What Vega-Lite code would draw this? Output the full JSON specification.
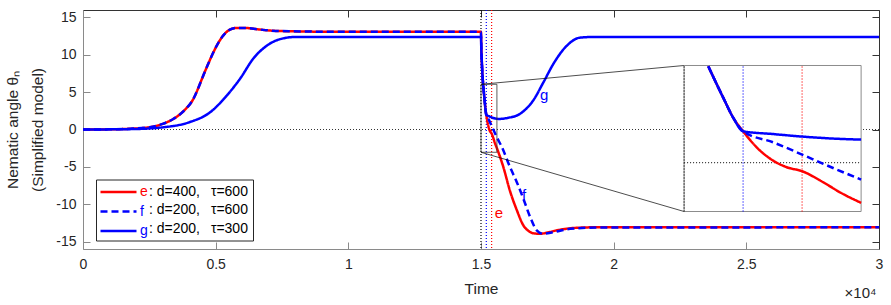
{
  "$schema": "https://vega.github.io/schema/vega-lite/v6.json",
  "width": 796,
  "height": 239,
  "autosize": {"type": "none"},
  "padding": {"left": 83, "top": 10, "right": 12, "bottom": 56},
  "background": "white",
  "config": {
    "font": "Liberation Sans",
    "view": {"stroke": null},
    "axis": {"grid": false, "labelFont": "Liberation Sans", "labelFontSize": 14, "labelColor": "#262626", "titleFont": "Liberation Sans", "titleFontWeight": "normal", "titleColor": "#262626", "tickSize": -7, "domainWidth": 1, "tickWidth": 1}
  },
  "datasets": {
    "curves": [
      {"series": "e", "t": 0, "theta": 0}, {"series": "e", "t": 1000, "theta": 0.02}, {"series": "e", "t": 1770, "theta": 0.1}, {"series": "e", "t": 2500, "theta": 0.3}, {"series": "e", "t": 3000, "theta": 0.75}, {"series": "e", "t": 3400, "theta": 1.4}, {"series": "e", "t": 3800, "theta": 2.5}, {"series": "e", "t": 4160, "theta": 4.1}, {"series": "e", "t": 4350, "theta": 5.6}, {"series": "e", "t": 4530, "theta": 7.2}, {"series": "e", "t": 4720, "theta": 8.8}, {"series": "e", "t": 4910, "theta": 10.3}, {"series": "e", "t": 5100, "theta": 11.6}, {"series": "e", "t": 5290, "theta": 12.6}, {"series": "e", "t": 5500, "theta": 13.3}, {"series": "e", "t": 5790, "theta": 13.6}, {"series": "e", "t": 6100, "theta": 13.6}, {"series": "e", "t": 6500, "theta": 13.45}, {"series": "e", "t": 7050, "theta": 13.25}, {"series": "e", "t": 7800, "theta": 13.15}, {"series": "e", "t": 9000, "theta": 13.1}, {"series": "e", "t": 15000, "theta": 13.1}, {"series": "e", "t": 15010, "theta": 11.2}, {"series": "e", "t": 15030, "theta": 9.2}, {"series": "e", "t": 15050, "theta": 7.6}, {"series": "e", "t": 15082, "theta": 6.0}, {"series": "e", "t": 15133, "theta": 4.03}, {"series": "e", "t": 15167, "theta": 2.78}, {"series": "e", "t": 15200, "theta": 1.95}, {"series": "e", "t": 15246, "theta": 0.95}, {"series": "e", "t": 15302, "theta": 0.12}, {"series": "e", "t": 15348, "theta": -0.29}, {"series": "e", "t": 15400, "theta": -0.54}, {"series": "e", "t": 15472, "theta": -1.23}, {"series": "e", "t": 15528, "theta": -1.85}, {"series": "e", "t": 15600, "theta": -2.51}, {"series": "e", "t": 15840, "theta": -5.0}, {"series": "e", "t": 16090, "theta": -8.2}, {"series": "e", "t": 16350, "theta": -10.8}, {"series": "e", "t": 16600, "theta": -12.85}, {"series": "e", "t": 16800, "theta": -13.6}, {"series": "e", "t": 16970, "theta": -13.9}, {"series": "e", "t": 17230, "theta": -13.96}, {"series": "e", "t": 17500, "theta": -13.8}, {"series": "e", "t": 17860, "theta": -13.5}, {"series": "e", "t": 18610, "theta": -13.16}, {"series": "e", "t": 19610, "theta": -13.08}, {"series": "e", "t": 30000, "theta": -13.1},
      {"series": "f", "t": 0, "theta": 0}, {"series": "f", "t": 1000, "theta": 0.02}, {"series": "f", "t": 1770, "theta": 0.1}, {"series": "f", "t": 2500, "theta": 0.3}, {"series": "f", "t": 3000, "theta": 0.75}, {"series": "f", "t": 3400, "theta": 1.4}, {"series": "f", "t": 3800, "theta": 2.5}, {"series": "f", "t": 4160, "theta": 4.1}, {"series": "f", "t": 4350, "theta": 5.6}, {"series": "f", "t": 4530, "theta": 7.2}, {"series": "f", "t": 4720, "theta": 8.8}, {"series": "f", "t": 4910, "theta": 10.3}, {"series": "f", "t": 5100, "theta": 11.6}, {"series": "f", "t": 5290, "theta": 12.6}, {"series": "f", "t": 5500, "theta": 13.3}, {"series": "f", "t": 5790, "theta": 13.6}, {"series": "f", "t": 6100, "theta": 13.6}, {"series": "f", "t": 6500, "theta": 13.45}, {"series": "f", "t": 7050, "theta": 13.25}, {"series": "f", "t": 7800, "theta": 13.15}, {"series": "f", "t": 9000, "theta": 13.1}, {"series": "f", "t": 15000, "theta": 13.1}, {"series": "f", "t": 15010, "theta": 11.2}, {"series": "f", "t": 15030, "theta": 9.2}, {"series": "f", "t": 15050, "theta": 7.6}, {"series": "f", "t": 15082, "theta": 6.0}, {"series": "f", "t": 15133, "theta": 4.03}, {"series": "f", "t": 15167, "theta": 2.78}, {"series": "f", "t": 15200, "theta": 1.95}, {"series": "f", "t": 15302, "theta": 1.26}, {"series": "f", "t": 15400, "theta": 0.5}, {"series": "f", "t": 15472, "theta": -0.08}, {"series": "f", "t": 15600, "theta": -1.06}, {"series": "f", "t": 15780, "theta": -2.3}, {"series": "f", "t": 16090, "theta": -5.0}, {"series": "f", "t": 16350, "theta": -7.05}, {"series": "f", "t": 16600, "theta": -9.3}, {"series": "f", "t": 16850, "theta": -11.7}, {"series": "f", "t": 17100, "theta": -13.5}, {"series": "f", "t": 17350, "theta": -13.96}, {"series": "f", "t": 17730, "theta": -13.75}, {"series": "f", "t": 18360, "theta": -13.3}, {"series": "f", "t": 19500, "theta": -13.12}, {"series": "f", "t": 30000, "theta": -13.1},
      {"series": "g", "t": 0, "theta": 0}, {"series": "g", "t": 1770, "theta": 0.05}, {"series": "g", "t": 3030, "theta": 0.3}, {"series": "g", "t": 4030, "theta": 1.0}, {"series": "g", "t": 4790, "theta": 2.3}, {"series": "g", "t": 5420, "theta": 4.55}, {"series": "g", "t": 5920, "theta": 6.8}, {"series": "g", "t": 6420, "theta": 9.5}, {"series": "g", "t": 6920, "theta": 11.2}, {"series": "g", "t": 7430, "theta": 12.1}, {"series": "g", "t": 8050, "theta": 12.4}, {"series": "g", "t": 9000, "theta": 12.4}, {"series": "g", "t": 15000, "theta": 12.4}, {"series": "g", "t": 15010, "theta": 10.9}, {"series": "g", "t": 15030, "theta": 9.1}, {"series": "g", "t": 15050, "theta": 7.6}, {"series": "g", "t": 15082, "theta": 6.0}, {"series": "g", "t": 15133, "theta": 4.03}, {"series": "g", "t": 15167, "theta": 2.78}, {"series": "g", "t": 15200, "theta": 1.95}, {"series": "g", "t": 15300, "theta": 1.78}, {"series": "g", "t": 15400, "theta": 1.62}, {"series": "g", "t": 15500, "theta": 1.5}, {"series": "g", "t": 15600, "theta": 1.43}, {"series": "g", "t": 15700, "theta": 1.42}, {"series": "g", "t": 16000, "theta": 1.55}, {"series": "g", "t": 16470, "theta": 2.1}, {"series": "g", "t": 16970, "theta": 3.9}, {"series": "g", "t": 17350, "theta": 6.3}, {"series": "g", "t": 17730, "theta": 8.8}, {"series": "g", "t": 18230, "theta": 11.2}, {"series": "g", "t": 18730, "theta": 12.3}, {"series": "g", "t": 19360, "theta": 12.4}, {"series": "g", "t": 30000, "theta": 12.4}
    ],
    "vlines": [{"t": 15000, "line": "start"}, {"t": 15200, "line": "d200"}, {"t": 15400, "line": "d400"}],
    "labels": [{"series": "e", "t": 15680, "theta": -11.2}, {"series": "f", "t": 16620, "theta": -8.8}, {"series": "g", "t": 17380, "theta": 4.6}],
    "legendText": [
      {"series": "e", "desc": ": d=400,\u2002\u00a0τ=600"},
      {"series": "f", "desc": ": d=200,\u2002\u00a0τ=600"},
      {"series": "g", "desc": ": d=200,\u2002\u00a0τ=300"}
    ],
    "zoomWindow": [{"t0": 15000, "t1": 15600, "v0": -3.05, "v1": 6.05}],
    "insetFrame": [{"t0": 22654, "t1": 29326, "v0": -10.98, "v1": 8.57}],
    "links": [{"ta": 15000, "va": 6.05, "tb": 22654, "vb": 8.57}, {"ta": 15000, "va": -3.05, "tb": 22654, "vb": -10.98}]
  },
  "resolve": {"scale": {"x": "independent", "y": "independent"}},
  "layer": [
    {
      "data": {"values": [{"t0": 0, "t1": 30000, "v": 0}]},
      "mark": {"type": "rule", "strokeDash": [1, 2], "color": "#333333", "strokeWidth": 1.2},
      "encoding": {
        "x": {"field": "t0", "type": "quantitative", "scale": {"domain": [0, 30000], "nice": false, "zero": false},
          "axis": {"orient": "bottom", "values": [0, 5000, 10000, 15000, 20000, 25000, 30000], "labelExpr": "'' + datum.value / 10000", "title": "Time", "titleFontSize": 15.5, "labelPadding": 15, "titlePadding": 10, "domainColor": "#8a8a8a", "tickColor": "#8a8a8a", "labelFlush": false}},
        "x2": {"field": "t1"},
        "y": {"field": "v", "type": "quantitative", "scale": {"domain": [-16, 16], "nice": false, "zero": false},
          "axis": {"orient": "left", "values": [-15, -10, -5, 0, 5, 10, 15], "labelExpr": "'' + datum.value", "title": ["Nematic angle  θₙ", "(Simplified model)"], "titleFontSize": 15.5, "titleLineHeight": 25, "labelPadding": 14, "titlePadding": 10, "domainColor": "#8a8a8a", "tickColor": "#8a8a8a", "labelFlush": false}}
      }
    },
    {
      "data": {"name": "vlines"},
      "mark": {"type": "rule", "strokeDash": [1, 2], "strokeWidth": 1.2},
      "encoding": {
        "x": {"field": "t", "type": "quantitative", "scale": {"domain": [0, 30000], "nice": false, "zero": false},
          "axis": {"orient": "top", "values": [0, 5000, 10000, 15000, 20000, 25000, 30000], "labels": false, "title": "×10⁴", "titleFontSize": 15, "titleX": 793, "titleY": 287, "titleAlign": "right", "titleBaseline": "alphabetic", "domainColor": "#333333", "tickColor": "#333333"}},
        "color": {"condition": [{"test": "datum.line == 'd200'", "value": "#0000ff"}, {"test": "datum.line == 'd400'", "value": "#ff0000"}], "value": "#000000"}
      }
    },
    {
      "data": {"name": "curves"},
      "mark": {"type": "line", "strokeWidth": 2.5, "interpolate": "monotone"},
      "encoding": {
        "x": {"field": "t", "type": "quantitative", "scale": {"domain": [0, 30000], "nice": false, "zero": false}, "axis": null},
        "y": {"field": "theta", "type": "quantitative", "scale": {"domain": [-16, 16], "nice": false, "zero": false}, "axis": null},
        "color": {"field": "series", "type": "nominal", "scale": {"domain": ["e", "f", "g"], "range": ["#ff0000", "#0000ff", "#0000ff"]},
          "legend": {"orient": "none", "legendX": 16, "legendY": 174.5, "title": null, "symbolType": "M-1,0H5", "symbolSize": 144, "symbolStrokeWidth": 2.5, "labelOffset": 26, "labelFontSize": 14, "labelFont": "Liberation Sans", "labelColor": {"expr": "datum.label == 'e' ? '#ff0000' : '#0000ff'"}, "rowPadding": 4.5, "padding": 0}},
        "strokeDash": {"field": "series", "type": "nominal", "scale": {"domain": ["e", "f", "g"], "range": [[1, 0], [7, 4], [1, 0]]},
          "legend": {"orient": "none", "legendX": 16, "legendY": 174.5, "title": null, "symbolType": "M-1,0H5", "symbolSize": 144, "symbolStrokeWidth": 2.5, "labelOffset": 26, "labelFontSize": 14, "labelFont": "Liberation Sans", "labelColor": {"expr": "datum.label == 'e' ? '#ff0000' : '#0000ff'"}, "rowPadding": 4.5, "padding": 0}}
      }
    },
    {
      "data": {"name": "zoomWindow"},
      "mark": {"type": "rect", "fill": null, "stroke": "#333333", "strokeWidth": 0.8},
      "encoding": {
        "x": {"field": "t0", "type": "quantitative", "scale": {"domain": [0, 30000], "nice": false, "zero": false}, "axis": null},
        "x2": {"field": "t1"},
        "y": {"field": "v0", "type": "quantitative", "scale": {"domain": [-16, 16], "nice": false, "zero": false}, "axis": null},
        "y2": {"field": "v1"}
      }
    },
    {
      "data": {"name": "links"},
      "mark": {"type": "rule", "color": "#000000", "strokeWidth": 0.7},
      "encoding": {
        "x": {"field": "ta", "type": "quantitative", "scale": {"domain": [0, 30000], "nice": false, "zero": false}, "axis": null},
        "x2": {"field": "tb"},
        "y": {"field": "va", "type": "quantitative", "scale": {"domain": [-16, 16], "nice": false, "zero": false}, "axis": null},
        "y2": {"field": "vb"}
      }
    },
    {
      "data": {"name": "insetFrame"},
      "mark": {"type": "rect", "fill": "#ffffff", "stroke": "#8c8c8c", "strokeWidth": 1},
      "encoding": {
        "x": {"field": "t0", "type": "quantitative", "scale": {"domain": [0, 30000], "nice": false, "zero": false}, "axis": null},
        "x2": {"field": "t1"},
        "y": {"field": "v0", "type": "quantitative", "scale": {"domain": [-16, 16], "nice": false, "zero": false}, "axis": null},
        "y2": {"field": "v1"}
      }
    },
    {
      "data": {"name": "vlines"},
      "mark": {"type": "rule", "strokeDash": [1, 2], "strokeWidth": 1.2},
      "encoding": {
        "x": {"field": "t", "type": "quantitative", "scale": {"domain": [15000, 15600], "range": [601.1, 778.1], "nice": false, "zero": false}, "axis": null},
        "y": {"datum": -3.05, "type": "quantitative", "scale": {"domain": [-3.05, 6.05], "range": [201.5, 55.5], "nice": false, "zero": false}, "axis": null},
        "y2": {"datum": 6.05},
        "color": {"condition": [{"test": "datum.line == 'd200'", "value": "#0000ff"}, {"test": "datum.line == 'd400'", "value": "#ff0000"}], "value": "#000000"}
      }
    },
    {
      "data": {"values": [{"t0": 15000, "t1": 15600, "v": 0}]},
      "mark": {"type": "rule", "strokeDash": [1, 2], "strokeWidth": 1.2, "color": "#333333"},
      "encoding": {
        "x": {"field": "t0", "type": "quantitative", "scale": {"domain": [15000, 15600], "range": [601.1, 778.1], "nice": false, "zero": false}, "axis": null},
        "x2": {"field": "t1"},
        "y": {"field": "v", "type": "quantitative", "scale": {"domain": [-3.05, 6.05], "range": [201.5, 55.5], "nice": false, "zero": false}, "axis": null}
      }
    },
    {
      "data": {"name": "curves"},
      "transform": [{"filter": "datum.t >= 15082 && datum.t <= 15600"}],
      "mark": {"type": "line", "strokeWidth": 2.5, "interpolate": "monotone"},
      "encoding": {
        "x": {"field": "t", "type": "quantitative", "scale": {"domain": [15000, 15600], "range": [601.1, 778.1], "nice": false, "zero": false}, "axis": null},
        "y": {"field": "theta", "type": "quantitative", "scale": {"domain": [-3.05, 6.05], "range": [201.5, 55.5], "nice": false, "zero": false}, "axis": null},
        "detail": {"field": "series"},
        "color": {"condition": {"test": "datum.series == 'e'", "value": "#ff0000"}, "value": "#0000ff"},
        "strokeDash": {"condition": {"test": "datum.series == 'f'", "value": [7, 4]}, "value": [1, 0]}
      }
    },
    {
      "data": {"name": "labels"},
      "mark": {"type": "text", "fontSize": 15, "font": "Liberation Sans", "align": "center", "baseline": "middle"},
      "encoding": {
        "x": {"field": "t", "type": "quantitative", "scale": {"domain": [0, 30000], "nice": false, "zero": false}, "axis": null},
        "y": {"field": "theta", "type": "quantitative", "scale": {"domain": [-16, 16], "nice": false, "zero": false},
          "axis": {"orient": "right", "values": [-15, -10, -5, 0, 5, 10, 15], "labels": false, "title": null, "domainColor": "#333333", "tickColor": "#333333"}},
        "text": {"field": "series"},
        "color": {"condition": {"test": "datum.series == 'e'", "value": "#ff0000"}, "value": "#0000ff"}
      }
    },
    {
      "data": {"name": "legendText"},
      "mark": {"type": "point", "opacity": 0},
      "encoding": {
        "shape": {"field": "desc", "type": "nominal", "scale": {"domain": [": d=400,\u2002\u00a0τ=600", ": d=200,\u2002\u00a0τ=600", ": d=200,\u2002\u00a0τ=300"], "range": ["circle", "circle", "circle"]},
          "legend": {"orient": "none", "legendX": 13, "legendY": 169.5, "title": null, "symbolSize": 144, "symbolOpacity": 0, "symbolStrokeWidth": 0, "labelOffset": 34, "labelFontSize": 14, "labelFont": "Liberation Sans", "labelColor": "#000000", "rowPadding": 4.5, "padding": 5, "strokeColor": "#262626", "fillColor": null}}
      }
    }
  ]
}
